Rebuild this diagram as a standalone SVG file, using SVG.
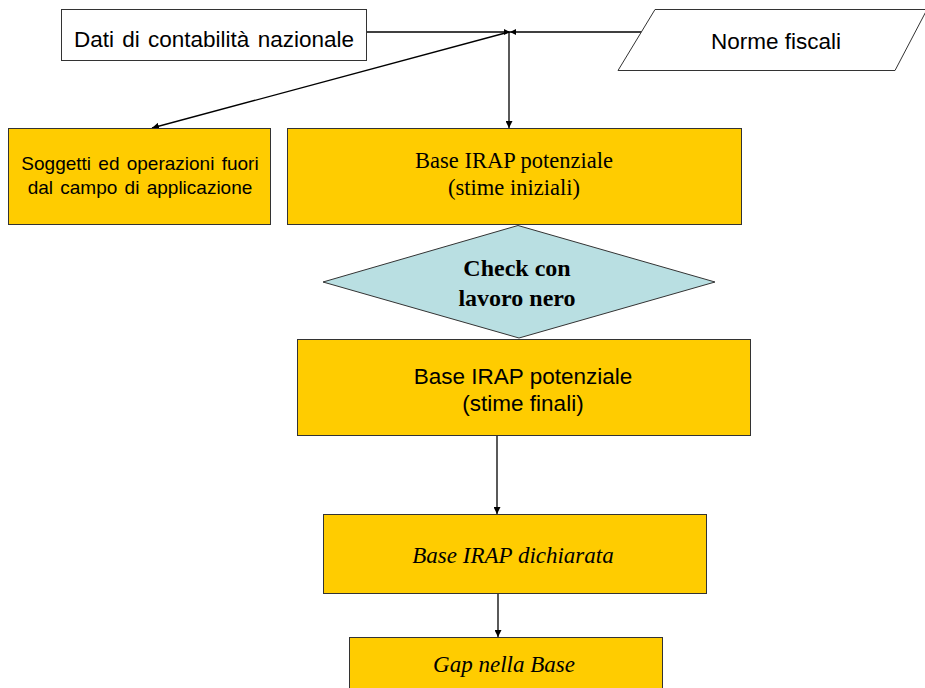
<svg xmlns="http://www.w3.org/2000/svg" width="925" height="688" viewBox="0 0 925 688">
<style>
.box{fill:#FFCC00;stroke:#333;stroke-width:1}
.wbox{fill:#fff;stroke:#333;stroke-width:1}
.dia{fill:#B9DFE2;stroke:#333;stroke-width:1}
.sans{font-family:"Liberation Sans",Arial,sans-serif;fill:#000}
.serif{font-family:"Liberation Serif","Times New Roman",serif;fill:#000}
.conn{stroke:#000;stroke-width:1.3;fill:none}
</style>
<defs>
<marker id="ah" viewBox="0 0 10 10" refX="10" refY="5" markerWidth="7" markerHeight="7" markerUnits="userSpaceOnUse" orient="auto">
<path d="M0,0 L10,5 L0,10 Z" fill="#000"/>
</marker>
<marker id="ahs" viewBox="0 0 10 10" refX="10" refY="5" markerWidth="6" markerHeight="6" markerUnits="userSpaceOnUse" orient="auto">
<path d="M0,0 L10,5 L0,10 Z" fill="#000"/>
</marker>
</defs>
<rect width="925" height="688" fill="#fff"/>
<g id="connectors">
<line class="conn" x1="367" y1="32" x2="510" y2="32" marker-end="url(#ahs)"/>
<line class="conn" x1="643" y1="32" x2="510" y2="32" marker-end="url(#ahs)"/>
<line class="conn" x1="509" y1="32" x2="152" y2="128" marker-end="url(#ah)"/>
<line class="conn" x1="509" y1="32" x2="509" y2="128" marker-end="url(#ah)"/>
<line class="conn" x1="497" y1="436" x2="497" y2="514" marker-end="url(#ah)"/>
<line class="conn" x1="498" y1="593" x2="498" y2="637" marker-end="url(#ah)"/>
</g>
<g id="dati">
<rect class="wbox" x="61.5" y="9.5" width="305" height="51"/>
<text class="sans" x="214" y="47" font-size="22.5" word-spacing="2" text-anchor="middle">Dati di contabilità nazionale</text>
</g>
<g id="norme">
<polygon class="wbox" points="655,9.5 927,9.5 895,70.5 618,70.5"/>
<text class="sans" x="776" y="49" font-size="22.5" text-anchor="middle">Norme fiscali</text>
</g>
<g id="soggetti">
<rect class="box" x="8.5" y="128.5" width="262" height="96"/>
<text class="sans" font-size="19" word-spacing="2" text-anchor="middle"><tspan x="140" y="170">Soggetti ed operazioni fuori</tspan><tspan x="140" y="194">dal campo di applicazione</tspan></text>
</g>
<g id="iniziali">
<rect class="box" x="287.5" y="128.5" width="454" height="96"/>
<text class="serif" font-size="22.5" text-anchor="middle"><tspan x="514" y="168">Base IRAP potenziale</tspan><tspan x="514" y="195">(stime iniziali)</tspan></text>
</g>
<g id="check">
<polygon class="dia" points="518,225.5 715,282 519,338 323,282"/>
<text class="serif" font-size="24" font-weight="bold" text-anchor="middle"><tspan x="517" y="276">Check con</tspan><tspan x="517" y="306">lavoro nero</tspan></text>
</g>
<g id="finali">
<rect class="box" x="297.5" y="339.5" width="453" height="96"/>
<text class="sans" font-size="22.5" text-anchor="middle"><tspan x="523" y="384">Base IRAP potenziale</tspan><tspan x="523" y="411">(stime finali)</tspan></text>
</g>
<g id="dichiarata">
<rect class="box" x="323.5" y="514.5" width="383" height="79"/>
<text class="serif" font-size="23" font-style="italic" text-anchor="middle" x="513" y="563">Base IRAP dichiarata</text>
</g>
<g id="gap">
<rect class="box" x="349.5" y="637.5" width="313" height="60"/>
<text class="serif" font-size="23" font-style="italic" text-anchor="middle" x="504" y="672">Gap nella Base</text>
</g>
</svg>
